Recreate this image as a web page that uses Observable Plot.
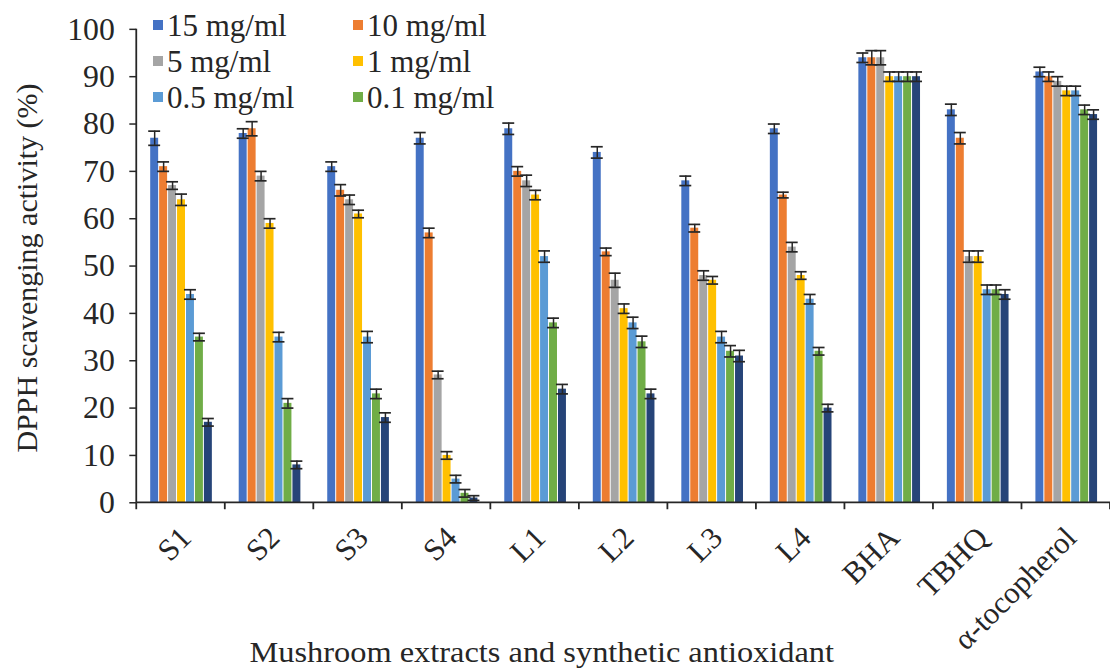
<!DOCTYPE html>
<html><head><meta charset="utf-8">
<script src="https://cdn.jsdelivr.net/npm/d3@7"></script>
<script src="https://cdn.jsdelivr.net/npm/@observablehq/plot@0.6"></script>
<style>
body{margin:0;background:#fff;}
#wrap{position:relative;width:1110px;height:668px;overflow:hidden;font-family:"Liberation Serif","DejaVu Serif",serif;color:#262626;}
#wrap svg{position:absolute;left:0;top:0;}
.leg{position:absolute;font-size:31px;line-height:1;white-space:nowrap;}
.sw{position:absolute;width:10px;height:10px;}
.ylab{position:absolute;font-size:30px;line-height:1;white-space:nowrap;transform-origin:center;}
.xlab{position:absolute;font-size:30px;line-height:1;white-space:nowrap;transform-origin:center;}
</style></head><body><div id="wrap"></div>
<script>
const groups = ["S1","S2","S3","S4","L1","L2","L3","L4","BHA","TBHQ","α-tocopherol"];
const seriesNames = ["15 mg/ml","10 mg/ml","5 mg/ml","1 mg/ml","0.5 mg/ml","0.1 mg/ml","0.05 mg/ml"];
const legendNames = ["15 mg/ml","10 mg/ml","5 mg/ml","1 mg/ml","0.5 mg/ml","0.1 mg/ml"];
const colors = ["#4472C4","#ED7D31","#A5A5A5","#FFC000","#5B9BD5","#70AD47","#264478"];
const yTicks = [0,10,20,30,40,50,60,70,80,90,100];

const val15  = [77,78,71,77,79,74,68,79,94,83,91];
const val10  = [71,79,66,57,70,53,58,65,94,77,90];
const val5   = [67,69,64,27,68,47,48,54,94,52,89];
const val1   = [64,59,61,10,65,41,47,48,90,52,87];
const val05  = [44,35,35,5,52,38,35,43,90,45,87];
const val01  = [35,21,23,2,38,34,32,32,90,45,83];
const val005 = [17,8,18,1,24,23,31,20,90,44,82];

const err15  = [1.5,1,1,1.2,1.2,1.2,1,1,1,1.2,1];
const err10  = [1,1.5,1.2,1,1,0.8,0.8,0.6,1.5,1.2,1];
const err5   = [0.8,1,1,0.8,1.2,1.5,1,1,1.5,1.2,1];
const err1   = [1.2,1,0.8,0.8,1,1,0.8,0.8,1,1.2,1];
const err05  = [1,1,1.2,0.8,1.2,1.2,1.2,1,1,1,1];
const err01  = [0.8,1,1,0.8,1,1.2,1.2,0.8,1,1,1];
const err005 = [0.8,0.8,1,0.5,1,1,1.2,0.8,1,1,1];

const values = [val15,val10,val5,val1,val05,val01,val005];
const errors = [err15,err10,err5,err1,err05,err01,err005];

const data = [];
groups.forEach((g, gi) => seriesNames.forEach((s, si) => {
  data.push({group: g, series: s, value: values[si][gi], err: errors[si][gi]});
}));

const ink = "#262626";
const plot = Plot.plot({
  width: 1116, height: 668,
  marginLeft: 137, marginRight: 0, marginTop: 29, marginBottom: 163,
  style: {fontFamily: "'Liberation Serif', 'DejaVu Serif', serif", fontSize: "27px", color: ink, background: "transparent", overflow: "visible"},
  fx: {domain: groups, paddingInner: 0.2, paddingOuter: 0.1, label: null, axis: null},
  x: {domain: seriesNames, padding: 0.12, axis: null},
  y: {domain: [0, 100], label: null},
  color: {domain: seriesNames, range: colors},
  marks: [
    Plot.axisY({ticks: yTicks, tickSize: 7, tickPadding: 15, fontSize: 32, label: null, dx: -9, strokeWidth: 1.5}),
    Plot.axisFx({anchor: "bottom", tickSize: 0, tickRotate: -45, tickPadding: 30, fontSize: 31, label: null, dx: 5}),
    Plot.barY(data, {fx: "group", x: "series", y: "value", fill: "series"}),
    Plot.ruleX(data, {fx: "group", x: "series", y1: d => d.value - d.err, y2: d => d.value + d.err, stroke: ink, strokeWidth: 1.5}),
    Plot.tickY(data, {fx: "group", x: "series", y: d => d.value + d.err, stroke: ink, strokeWidth: 1.7, insetLeft: -2, insetRight: -2}),
    Plot.tickY(data, {fx: "group", x: "series", y: d => d.value - d.err, stroke: ink, strokeWidth: 1.7, insetLeft: -2, insetRight: -2})
  ]
});

const wrap = document.getElementById("wrap");
wrap.appendChild(plot);

// axis lines and group boundary ticks from the library's scales
const fxs = plot.scale("fx");
const ys = plot.scale("y");
const n = groups.length;
const step = fxs.step || (fxs.range[1] - fxs.range[0]) / (n - fxs.paddingInner + 2 * fxs.paddingOuter);
const x0 = fxs.range[0];
const yb = ys.apply(0), yt = ys.apply(100);
const svg = d3.select(plot);
const g = svg.append("g").attr("stroke", ink).attr("stroke-width", 1.8);
g.append("line").attr("x1", x0).attr("x2", x0 + n * step).attr("y1", yb).attr("y2", yb);
g.append("line").attr("x1", x0).attr("x2", x0).attr("y1", yt).attr("y2", yb);
for (let i = 0; i <= n; i++) {
  g.append("line").attr("x1", x0 + i * step).attr("x2", x0 + i * step).attr("y1", yb).attr("y2", yb + 7);
}

// legend (6 named series, two columns)
const legPos = [[153,10],[353,10],[153,46],[353,46],[153,82],[353,82]];
legendNames.forEach((name, i) => {
  const [lx, ly] = legPos[i];
  const sw = document.createElement("div");
  sw.className = "sw";
  sw.style.left = lx + "px"; sw.style.top = (ly + 10) + "px";
  sw.style.background = colors[i];
  wrap.appendChild(sw);
  const t = document.createElement("div");
  t.className = "leg";
  t.style.left = (lx + 14) + "px"; t.style.top = ly + "px";
  t.textContent = name;
  wrap.appendChild(t);
});

const yl = document.createElement("div");
yl.className = "ylab";
yl.textContent = "DPPH scavenging activity (%)";
wrap.appendChild(yl);
const w = yl.offsetWidth, h = yl.offsetHeight;
yl.style.left = (26 - w / 2) + "px";
yl.style.top = (268 - h / 2) + "px";
yl.style.transform = "rotate(-90deg)";

const xl = document.createElement("div");
xl.className = "xlab";
xl.textContent = "Mushroom extracts and synthetic antioxidant";
wrap.appendChild(xl);
const xw = xl.offsetWidth;
xl.style.left = (542 - xw / 2) + "px";
xl.style.top = "637px";
xl.style.transform = "scaleX(" + (585 / xw) + ")";
</script></body></html>
